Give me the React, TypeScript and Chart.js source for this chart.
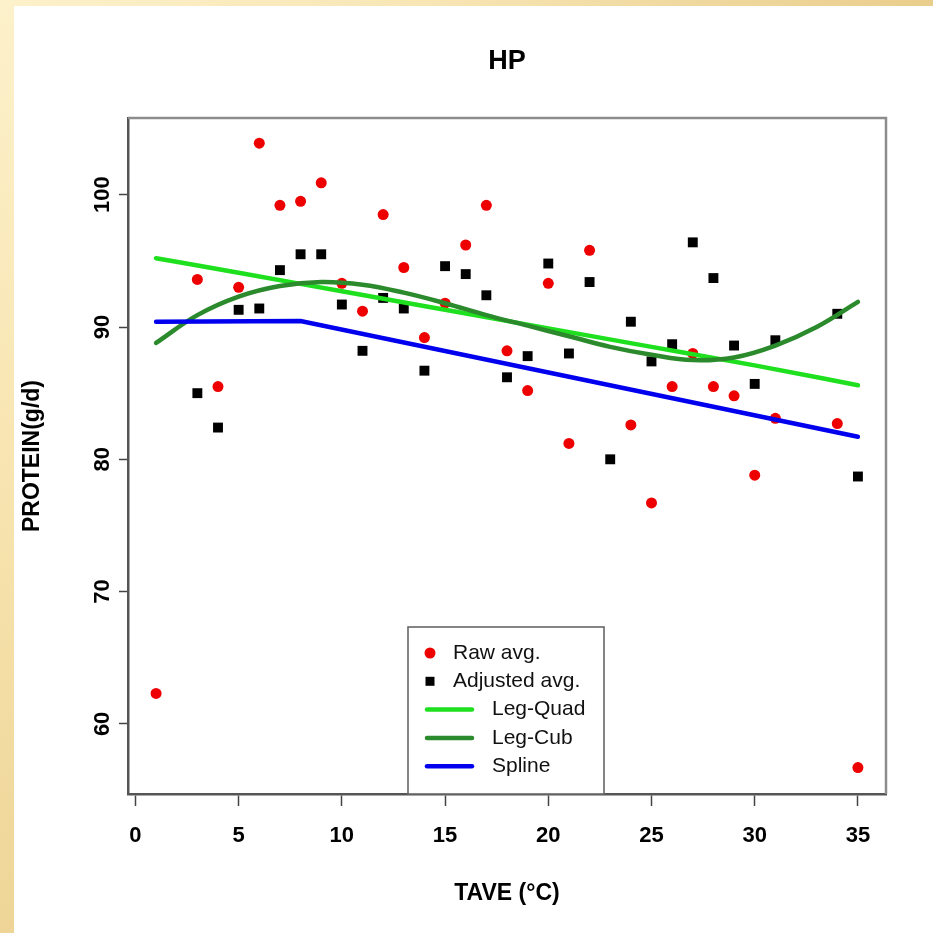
import React, { useEffect, useRef } from "react";
import { Chart, registerables } from "chart.js";

Chart.register(...registerables);

// ---------- data ----------
const TITLE = "HP";
const X_TITLE = "TAVE (\u00B0C)";
const Y_TITLE = "PROTEIN(g/d)";

const X_TICKS = [0, 5, 10, 15, 20, 25, 30, 35];
const Y_TICKS = [60, 70, 80, 90, 100];

const RAW_X = [1, 3, 4, 5, 6, 7, 8, 9, 10, 11, 12, 13, 14, 15, 16, 17, 18, 19, 20, 21, 22, 24, 25, 26, 27, 28, 29, 30, 31, 34, 35];
const RAW_Y = [62.3, 93.6, 85.5, 93.0, 103.9, 99.2, 99.5, 100.9, 93.3, 91.2, 98.5, 94.5, 89.2, 91.8, 96.2, 99.2, 88.2, 85.2, 93.3, 81.2, 95.8, 82.6, 76.7, 85.5, 88.0, 85.5, 84.8, 78.8, 83.1, 82.7, 56.7];

const ADJ_X = [3, 4, 5, 6, 7, 8, 9, 10, 11, 12, 13, 14, 15, 16, 17, 18, 19, 20, 21, 22, 23, 24, 25, 26, 27, 28, 29, 30, 31, 34, 35];
const ADJ_Y = [85.0, 82.4, 91.3, 91.4, 94.3, 95.5, 95.5, 91.7, 88.2, 92.2, 91.4, 86.7, 94.6, 94.0, 92.4, 86.2, 87.8, 94.8, 88.0, 93.4, 80.0, 90.4, 87.4, 88.7, 96.4, 93.7, 88.6, 85.7, 89.0, 91.0, 78.7];

const QUAD_X = [1, 5, 10, 15, 20, 25, 30, 35];
const QUAD_Y = [95.2, 94.1, 92.7, 91.3, 89.9, 88.5, 87.1, 85.6];

const CUB_X = [1, 3, 5, 7, 9, 11, 13, 15, 17, 19, 21, 23, 25, 27, 29, 31, 33, 35];
const CUB_Y = [88.8, 90.9, 92.3, 93.1, 93.4, 93.2, 92.6, 91.8, 90.9, 90.1, 89.3, 88.5, 87.9, 87.5, 87.7, 88.6, 90.0, 91.9];

const SPLINE_X = [1, 8, 35];
const SPLINE_Y = [90.4, 90.45, 81.7];

const LEGEND_LABELS = ["Raw avg.", "Adjusted avg.", "Leg-Quad", "Leg-Cub", "Spline"];

const X_MIN = -0.36, X_MAX = 36.36;
const Y_MIN = 54.7, Y_MAX = 105.8;

const RED = "#ee0000";
const BLACK = "#000000";
const LIGHT_GREEN = "#1fe01f";
const DARK_GREEN = "#2b8a2b";
const BLUE = "#0000ee";

const toPts = (xs: number[], ys: number[]) => xs.map((x, i) => ({ x, y: ys[i] }));

const BOLD = "'Liberation Sans', Arial, sans-serif";

const decorPlugin = {
  id: "decor",
  afterDraw(chart: any) {
    const { ctx, chartArea, scales } = chart;
    const { left, right, top, bottom } = chartArea;
    ctx.save();
    // box (top / right)
    ctx.strokeStyle = "#8c8c8c";
    ctx.lineWidth = 2.5;
    ctx.beginPath();
    ctx.moveTo(left, top);
    ctx.lineTo(right, top);
    ctx.lineTo(right, bottom);
    ctx.stroke();

    // title
    ctx.fillStyle = "#000";
    ctx.font = `bold 27px ${BOLD}`;
    ctx.textAlign = "center";
    ctx.textBaseline = "middle";
    ctx.fillText(TITLE, (left + right) / 2, 62);

    // y tick labels (rotated, R style)
    const ys = scales.y;
    ctx.font = `bold 22px ${BOLD}`;
    Y_TICKS.forEach((v) => {
      const py = ys.getPixelForValue(v);
      ctx.save();
      ctx.translate(left - 25, py);
      ctx.rotate(-Math.PI / 2);
      ctx.textAlign = "center";
      ctx.textBaseline = "middle";
      ctx.fillText(String(v), 0, 0);
      ctx.restore();
    });

    // legend
    const lx = left + 280, lr = left + 476, lt = bottom - 167;
    ctx.fillStyle = "#fff";
    ctx.fillRect(lx, lt, lr - lx, bottom - lt);
    ctx.strokeStyle = "#666";
    ctx.lineWidth = 1.6;
    ctx.strokeRect(lx, lt, lr - lx, bottom - lt);
    const rowY = (i: number) => lt + 26 + i * 28.3;
    const symX = lx + 22;
    ctx.font = `21px ${BOLD}`;
    ctx.textAlign = "left";
    ctx.textBaseline = "middle";
    // raw
    ctx.fillStyle = RED;
    ctx.beginPath();
    ctx.arc(symX, rowY(0), 5.5, 0, Math.PI * 2);
    ctx.fill();
    // adjusted
    ctx.fillStyle = BLACK;
    ctx.fillRect(symX - 4.5, rowY(1) - 4.5, 9, 9);
    const lineCols = [LIGHT_GREEN, DARK_GREEN, BLUE];
    lineCols.forEach((c, k) => {
      ctx.strokeStyle = c;
      ctx.lineWidth = 4.5;
      ctx.lineCap = "round";
      ctx.beginPath();
      ctx.moveTo(symX - 3, rowY(k + 2));
      ctx.lineTo(symX + 42, rowY(k + 2));
      ctx.stroke();
    });
    ctx.fillStyle = "#111";
    ctx.fillText(LEGEND_LABELS[0], lx + 45, rowY(0));
    ctx.fillText(LEGEND_LABELS[1], lx + 45, rowY(1));
    ctx.fillText(LEGEND_LABELS[2], lx + 84, rowY(2));
    ctx.fillText(LEGEND_LABELS[3], lx + 84, rowY(3));
    ctx.fillText(LEGEND_LABELS[4], lx + 84, rowY(4));
    ctx.restore();
  },
};

export default function App() {
  const ref = useRef<HTMLCanvasElement | null>(null);

  useEffect(() => {
    if (!ref.current) return;
    const chart = new Chart(ref.current, {
      type: "scatter",
      data: {
        datasets: [
          {
            label: LEGEND_LABELS[0],
            data: toPts(RAW_X, RAW_Y),
            pointStyle: "circle",
            pointRadius: 5.5,
            pointBackgroundColor: RED,
            pointBorderWidth: 0,
            borderColor: RED,
            backgroundColor: RED,
            showLine: false,
            order: 5,
          },
          {
            label: LEGEND_LABELS[1],
            data: toPts(ADJ_X, ADJ_Y),
            pointStyle: "rect",
            pointRadius: 7,
            pointBackgroundColor: BLACK,
            pointBorderWidth: 0,
            borderColor: BLACK,
            backgroundColor: BLACK,
            showLine: false,
            order: 4,
          },
          {
            label: LEGEND_LABELS[2],
            data: toPts(QUAD_X, QUAD_Y),
            showLine: true,
            borderColor: LIGHT_GREEN,
            borderWidth: 4.5,
            pointRadius: 0,
            cubicInterpolationMode: "monotone",
            borderCapStyle: "round",
            order: 3,
          },
          {
            label: LEGEND_LABELS[3],
            data: toPts(CUB_X, CUB_Y),
            showLine: true,
            borderColor: DARK_GREEN,
            borderWidth: 4.5,
            pointRadius: 0,
            tension: 0.4,
            borderCapStyle: "round",
            order: 2,
          },
          {
            label: LEGEND_LABELS[4],
            data: toPts(SPLINE_X, SPLINE_Y),
            showLine: true,
            borderColor: BLUE,
            borderWidth: 4.5,
            pointRadius: 0,
            tension: 0,
            borderCapStyle: "round",
            order: 1,
          },
        ],
      },
      options: {
        responsive: false,
        animation: false,
        layout: { padding: { top: 118, right: 47, bottom: 0, left: 0 } },
        plugins: {
          legend: { display: false },
          tooltip: { enabled: false },
          title: { display: false },
        },
        scales: {
          x: {
            type: "linear",
            min: X_MIN,
            max: X_MAX,
            afterBuildTicks: (s: any) => {
              s.ticks = X_TICKS.map((v) => ({ value: v }));
            },
            afterFit: (s: any) => {
              s.height = 139;
            },
            grid: {
              drawOnChartArea: false,
              drawTicks: true,
              tickLength: 12,
              tickWidth: 1.5,
              tickColor: "#444",
            },
            border: { display: true, color: "#555", width: 2.5 },
            ticks: {
              color: "#000",
              padding: 17,
              maxRotation: 0,
              font: { family: BOLD, size: 22, weight: "bold" },
            },
            title: {
              display: true,
              text: X_TITLE,
              color: "#000",
              font: { family: BOLD, size: 23, weight: "bold" },
              padding: { top: 0, bottom: 26 },
            },
          },
          y: {
            type: "linear",
            min: Y_MIN,
            max: Y_MAX,
            afterBuildTicks: (s: any) => {
              s.ticks = Y_TICKS.map((v) => ({ value: v }));
            },
            afterFit: (s: any) => {
              s.width = 128;
            },
            grid: {
              drawOnChartArea: false,
              drawTicks: true,
              tickLength: 9,
              tickWidth: 1.5,
              tickColor: "#444",
            },
            border: { display: true, color: "#555", width: 2.5 },
            ticks: { display: false },
            title: {
              display: true,
              text: Y_TITLE,
              color: "#000",
              font: { family: BOLD, size: 23, weight: "bold" },
              padding: { top: 19, bottom: 0 },
            },
          },
        },
      },
      plugins: [decorPlugin],
    });
    return () => chart.destroy();
  }, []);

  return (
    <div
      style={{
        position: "fixed",
        left: 0,
        top: 0,
        width: 933,
        height: 933,
        overflow: "hidden",
        background: "linear-gradient(to right, #fdf1cb 0%, #f8e6b5 45%, #e9cd8c 100%)",
      }}
    >
      <div
        style={{
          position: "absolute",
          left: 0,
          top: 0,
          width: 14,
          height: 933,
          background: "linear-gradient(to bottom, #fdf1cb 0%, #f7e3ae 55%, #eed597 100%)",
        }}
      />
      <div style={{ position: "absolute", left: 14, top: 6, right: 0, bottom: 0, background: "#fff" }} />
      <canvas
        ref={ref}
        width={933}
        height={933}
        style={{ position: "absolute", left: 0, top: 0, width: 933, height: 933 }}
      />
    </div>
  );
}
